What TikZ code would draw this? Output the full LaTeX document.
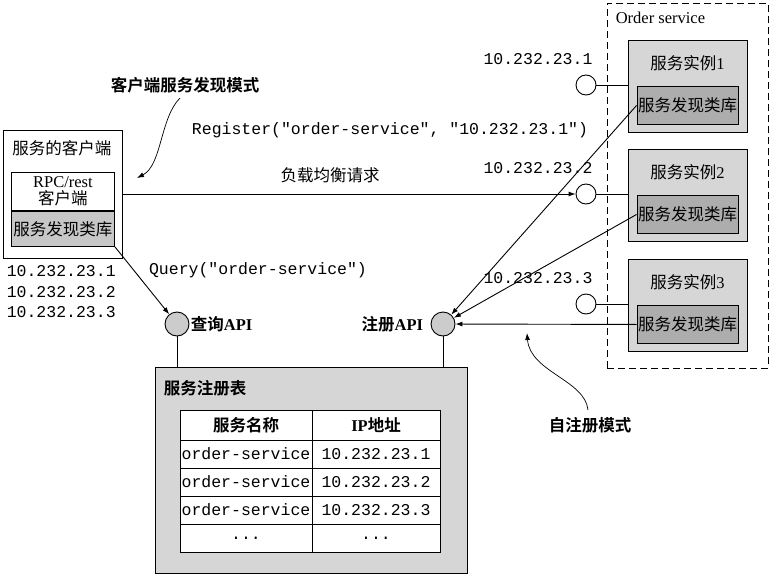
\documentclass[tikz,border=0pt]{standalone}
\usepackage{fontspec}
\setmainfont{Liberation Serif}
\setmonofont{Liberation Mono}
\newfontfamily\cjk[BoldFont={Noto Sans CJK SC Bold}]{Noto Sans CJK SC}
\usetikzlibrary{
    arrows.meta,
    positioning
}
\definecolor{panelgray}{gray}{0.84}
\definecolor{libgray}{gray}{0.68}
\definecolor{clientlibgray}{gray}{0.78}
\definecolor{apigray}{gray}{0.80}

\begin{document}
\begin{tikzpicture}[x=1pt,y=-1pt,line width=0.9pt,
    box/.style={draw, inner sep=0pt},
    libbox/.style={box, fill=libgray, minimum width=101, minimum height=38,
        font=\cjk\fontsize{16.5}{18}\selectfont},
    inst/.style={box, fill=panelgray, minimum width=119, minimum height=92},
    cell/.style={box, fill=white, minimum height=28},
    api/.style={circle, draw, fill=apigray, minimum size=24, inner sep=0pt},
    port/.style={circle, draw, fill=white, minimum size=20, inner sep=0pt},
    ip/.style={font=\ttfamily\fontsize{16.5}{20.5}\selectfont},
    cn/.style={font=\cjk\fontsize{16.5}{18}\selectfont},
    cnbold/.style={font=\cjk\bfseries\fontsize{16.5}{18}\selectfont},
    arr/.style={-{Latex[length=7pt,width=5pt]}}
]
\useasboundingbox (0,0) rectangle (774,578);

% client side
\node[box, minimum width=119, minimum height=128, anchor=north west] (client) at (3,130) {};
\node[cn] (clienttitle) at (62,148) {服务的客户端};
\node[box, fill=white, minimum width=103, minimum height=38, anchor=north west,
      align=center, font=\fontsize{16.5}{17}\selectfont] (rpc) at (11,172) {RPC/rest\\{\cjk 客户端}};
\node[box, fill=clientlibgray, minimum width=103, minimum height=35, anchor=north,
      font=\cjk\fontsize{16.5}{18}\selectfont] (clientlib) at (rpc.south) {服务发现类库};
\node[ip, align=left, anchor=north west] (clientips) at (3,262) {10.232.23.1\\10.232.23.2\\10.232.23.3};

\node[cnbold] (clientmode) at (185,85) {客户端服务发现模式};
\coordinate (clientmodetail) at (180,98);
\draw[arr, line width=0.7pt] (clientmodetail) .. controls (160,118) and (162,165) .. (137,178);

\node[ip] (regcall) at (390,130) {Register("order-service", "10.232.23.1")};
\node[ip] (querycall) at (258,270) {Query("order-service")};

% registry
\node[box, fill=panelgray, minimum width=312, minimum height=206, anchor=north west] (registry) at (155,367) {};
\node[cnbold, anchor=west] (registrytitle) at (160,388) {服务注册表};

\node[api] (query) at (177,324) {};
\node[api] (register) at (443,324) {};
\node[cnbold, anchor=west, inner sep=1pt] (querylabel) at (query.east) {查询{\rmfamily API}};
\node[cnbold, anchor=east, inner sep=1pt] (registerlabel) at ([xshift=-6pt]register.west) {注册{\rmfamily API}};
\draw (query) -- (query |- registry.north);
\draw (register) -- (register |- registry.north);

% table
\node[cell, minimum width=132, minimum height=30, cnbold] (head1) at (246,425) {服务名称};
\node[cell, minimum width=128, minimum height=30, cnbold] (head2) at (376,425) {{\rmfamily IP}地址};
\foreach \r/\y/\ip in {1/454/10.232.23.1, 2/482/10.232.23.2, 3/510/10.232.23.3}{
    \node[cell, minimum width=132, ip] (name\r) at (246,\y) {order-service};
    \node[cell, minimum width=128, ip] (addr\r) at (376,\y) {\ip};
}
\node[cell, minimum width=132, ip] (name4) at (246,538) {...};
\node[cell, minimum width=128, ip] (addr4) at (376,538) {...};

% order service instances
\node[box, dashed, dash pattern=on 7pt off 4pt, minimum width=161, minimum height=365,
      anchor=north west] (ordersvc) at (607,3) {};
\node[anchor=west, font=\fontsize{16.5}{18}\selectfont] (ordersvclabel) at (612,18) {Order service};

\foreach \i/\y in {1/40, 2/149, 3/259}{
    \node[inst, anchor=north] (inst\i) at (687.5,\y) {};
    \node[cn] (inst\i title) at (687.5,\y+23) {服务实例{\rmfamily\i}};
    \node[libbox, anchor=north] (lib\i) at (687.5,\y+46) {服务发现类库};
    \node[port] (port\i) at (586,\y+45) {};
    \node[ip] (portip\i) at (538,\y+19) {10.232.23.\i};
    \draw (port\i.east) -- (inst\i.west |- port\i);
    \draw[arr] (lib\i.west) -- (register);
}

% load balanced request
\draw[arr] (client.east |- port2) -- (port2.west);
\node[cn] (lblabel) at (330,175) {负载均衡请求};
\draw[arr] (clientlib.south east) -- (query);

\node[cnbold] (selfmode) at (590,425) {自注册模式};
\coordinate (selfmodetail) at (588,410);
\draw[arr, line width=0.7pt] (selfmodetail) .. controls (585,380) and (530,372) .. (527,333);

\end{tikzpicture}
\end{document}
